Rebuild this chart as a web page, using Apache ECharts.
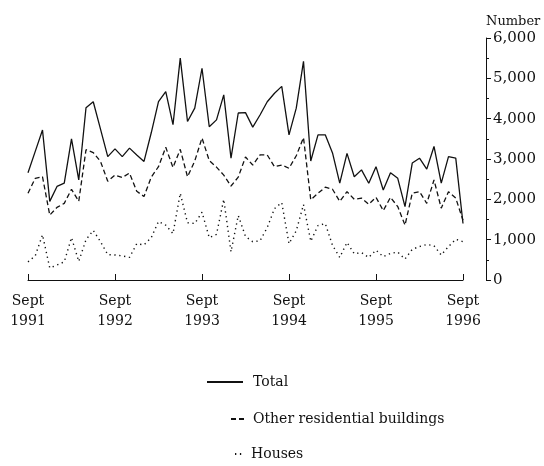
<!DOCTYPE html>
<html>
<head>
<meta charset="utf-8">
<script src="https://cdn.jsdelivr.net/npm/echarts@6/dist/echarts.min.js"></script>
<style>
html,body{margin:0;padding:0;background:#fff;}
#chart{width:544px;height:466px;}
</style>
</head>
<body>
<div id="chart"></div>
<script>
// Monthly categories, Sept 1991 .. Sept 1996
var monthNames = ['Jan','Feb','Mar','Apr','May','Jun','Jul','Aug','Sept','Oct','Nov','Dec'];
var categories = [];
for (var y = 1991, m = 8; categories.length < 61; ) {
  categories.push(monthNames[m] + ' ' + y);
  m++; if (m === 12) { m = 0; y++; }
}
var xTickLabels = ['Sept\n1991','Sept\n1992','Sept\n1993','Sept\n1994','Sept\n1995','Sept\n1996'];
var yTicks = [0,1000,2000,3000,4000,5000,6000];

var total = [2660,3190,3720,1950,2320,2400,3500,2480,4270,4420,
             3740,3060,3250,3060,3270,3100,2940,3650,4420,4670,
             3850,5500,3930,4260,5250,3800,3970,4590,3020,4140,
             4150,3790,4090,4420,4630,4800,3600,4260,5420,2950,
             3600,3600,3150,2400,3140,2560,2730,2400,2810,2230,
             2660,2520,1820,2900,3020,2750,3310,2400,3060,3020,
             1400];
var other = [2150,2520,2560,1610,1800,1900,2250,1950,3230,3160,
             2940,2450,2600,2540,2650,2200,2070,2550,2810,3290,
             2790,3240,2560,2950,3520,2960,2800,2600,2330,2550,
             3050,2850,3100,3100,2810,2850,2770,3080,3530,1990,
             2150,2300,2250,1950,2190,2000,2030,1880,2050,1720,
             2050,1820,1360,2150,2190,1900,2480,1780,2190,2030,
             1480];
var houses = [450,600,1120,300,370,450,1050,460,1000,1230,
              950,630,620,600,560,900,870,1050,1450,1360,
              1150,2150,1420,1400,1680,1050,1130,2000,700,1600,
              1080,950,970,1300,1770,1920,900,1220,1870,960,
              1350,1400,860,560,930,650,680,560,740,580,
              660,690,520,760,830,880,850,620,830,1010,
              950];

var FONT = 'DejaVu Serif';
var INK = '#111';

var hiddenSymbol = {opacity: 0, borderWidth: 0};
function legendText(padLeft) {
  return {fontFamily: FONT, fontSize: 14, color: INK, padding: [0, 0, 0, padLeft]};
}

var chart = echarts.init(document.getElementById('chart'), null, {renderer: 'canvas'});
chart.setOption({
  backgroundColor: '#fff',
  animation: false,
  textStyle: {fontFamily: FONT, color: INK},
  grid: {left: 28, right: 81, top: 38, bottom: 186, containLabel: false},
  xAxis: {
    type: 'category',
    data: categories,
    boundaryGap: false,
    axisLine: {show: true, lineStyle: {color: INK, width: 1}},
    axisTick: {
      show: true, inside: true, length: 6,
      interval: function (i) { return i % 12 === 0; },
      lineStyle: {color: INK}
    },
    axisLabel: {
      interval: function (i) { return i % 12 === 0; },
      formatter: function (v, i) { return xTickLabels[Math.round(i / 12)]; },
      fontFamily: FONT, fontSize: 14, color: INK, lineHeight: 20, margin: 11
    },
    splitLine: {show: false}
  },
  yAxis: {
    type: 'value',
    position: 'right',
    offset: 23,
    min: 0, max: 6000, interval: 1000,
    name: 'Number',
    nameLocation: 'end',
    nameGap: 10,
    nameTextStyle: {fontFamily: FONT, fontSize: 13, color: INK, align: 'left'},
    axisLine: {show: true, lineStyle: {color: INK, width: 1}},
    axisTick: {show: true, inside: false, length: 5, lineStyle: {color: INK}},
    minorTick: {show: true, splitNumber: 2, length: 3, lineStyle: {color: INK}},
    axisLabel: {
      fontFamily: FONT, fontSize: 15, color: INK, margin: 7,
      formatter: function (v) { return yTicks.indexOf(v) >= 0 ? v.toLocaleString('en-US') : ''; }
    },
    splitLine: {show: false}
  },
  legend: [
    {data: ['Total'], orient: 'vertical', left: 201, top: 370, itemWidth: 36, itemHeight: 12,
     itemStyle: hiddenSymbol, textStyle: legendText(5)},
    {data: ['Other residential buildings'], orient: 'vertical', left: 225, top: 407, itemWidth: 13, itemHeight: 12,
     itemStyle: hiddenSymbol, textStyle: legendText(4)},
    {data: ['Houses'], orient: 'vertical', left: 229, top: 442, itemWidth: 8, itemHeight: 12,
     itemStyle: hiddenSymbol, textStyle: legendText(3)}
  ],
  series: [
    {name: 'Total', type: 'line', data: total, symbol: 'none', showSymbol: false,
     lineStyle: {color: INK, width: 1.3, type: 'solid'}, itemStyle: {color: INK}},
    {name: 'Other residential buildings', type: 'line', data: other, symbol: 'none', showSymbol: false,
     lineStyle: {color: INK, width: 1.3, type: [5, 3]}, itemStyle: {color: INK}},
    {name: 'Houses', type: 'line', data: houses, symbol: 'none', showSymbol: false,
     lineStyle: {color: INK, width: 1.4, type: [1.3, 3.6]}, itemStyle: {color: INK}}
  ]
});
</script>
</body>
</html>
